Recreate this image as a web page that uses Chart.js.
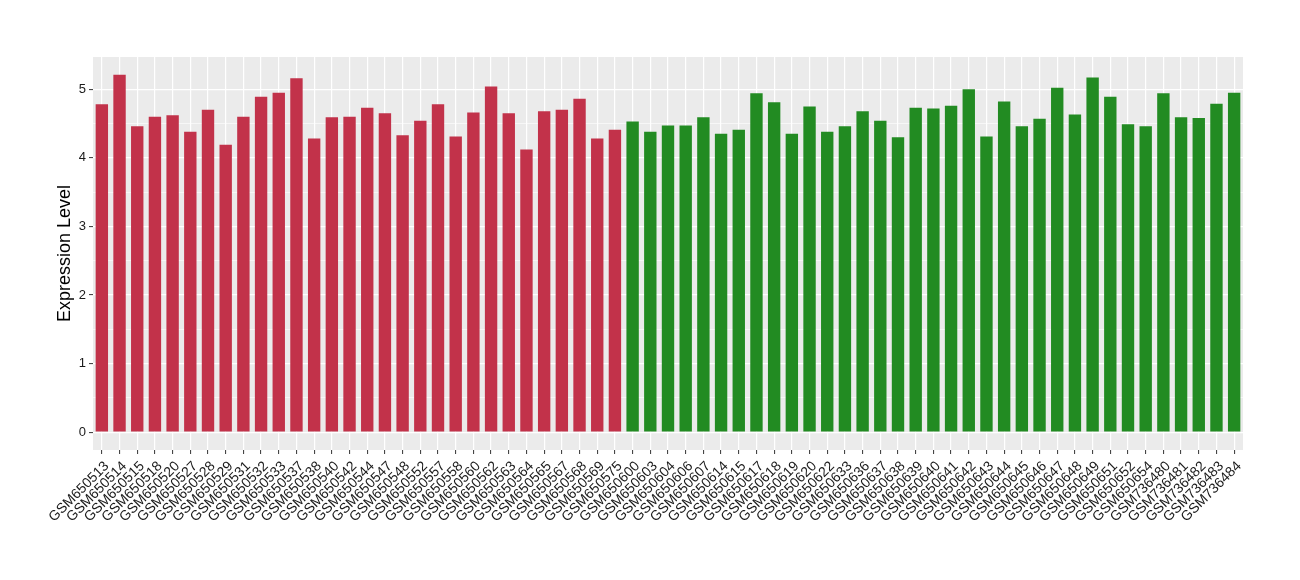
<!DOCTYPE html>
<html>
<head>
<meta charset="utf-8">
<script src="https://cdn.jsdelivr.net/npm/chart.js@4"></script>
<style>
  html, body { margin: 0; padding: 0; background: #fff; }
  #wrap { width: 1300px; height: 580px; }
</style>
</head>
<body>
<div id="wrap"><canvas id="canvas" width="1300" height="580"></canvas></div>
<script>
// SAMPLES - first group (red)
var redSamples = ['GSM650513', 'GSM650514', 'GSM650515', 'GSM650518', 'GSM650520', 'GSM650527',
  'GSM650528', 'GSM650529', 'GSM650531', 'GSM650532', 'GSM650533', 'GSM650537', 'GSM650538',
  'GSM650540', 'GSM650542', 'GSM650544', 'GSM650547', 'GSM650548', 'GSM650552', 'GSM650557',
  'GSM650558', 'GSM650560', 'GSM650562', 'GSM650563', 'GSM650564', 'GSM650565', 'GSM650567',
  'GSM650568', 'GSM650569', 'GSM650575'];
var redValues = [4.78, 5.21, 4.46, 4.60, 4.62, 4.38, 4.70, 4.19, 4.60, 4.89, 4.95, 5.16, 4.28,
  4.59, 4.60, 4.73, 4.65, 4.33, 4.54, 4.78, 4.31, 4.66, 5.04, 4.65, 4.12, 4.68, 4.70, 4.86,
  4.28, 4.41];

// SAMPLES - second group (green)
var greenSamples = ['GSM650600', 'GSM650603', 'GSM650604', 'GSM650606', 'GSM650607', 'GSM650614',
  'GSM650615', 'GSM650617', 'GSM650618', 'GSM650619', 'GSM650620', 'GSM650622', 'GSM650633',
  'GSM650636', 'GSM650637', 'GSM650638', 'GSM650639', 'GSM650640', 'GSM650641', 'GSM650642',
  'GSM650643', 'GSM650644', 'GSM650645', 'GSM650646', 'GSM650647', 'GSM650648', 'GSM650649',
  'GSM650651', 'GSM650652', 'GSM650654', 'GSM736480', 'GSM736481', 'GSM736482', 'GSM736483',
  'GSM736484'];
var greenValues = [4.53, 4.38, 4.47, 4.47, 4.59, 4.35, 4.41, 4.94, 4.81, 4.35, 4.75, 4.38, 4.46,
  4.68, 4.54, 4.30, 4.73, 4.72, 4.76, 5.00, 4.31, 4.82, 4.46, 4.57, 5.02, 4.63, 5.17, 4.89,
  4.49, 4.46, 4.94, 4.59, 4.58, 4.79, 4.95];

// Y TICKS
var yTicks = [0, 0.5, 1, 1.5, 2, 2.5, 3, 3.5, 4, 4.5, 5];

var RED = '#C2324A';
var GREEN = '#228B22';
var FONT = "'Liberation Sans', Arial, sans-serif";

var labels = redSamples.concat(greenSamples);
var values = redValues.concat(greenValues);
var colors = redSamples.map(function () { return RED }).concat(greenSamples.map(function () { return GREEN }));

var isMajor = function (v) { return Math.abs(v - Math.round(v)) < 1e-6 };

// grey ggplot panel behind the grid
var panelBg = {
  id: 'panelBg',
  beforeDraw: function (chart) {
    var a = chart.chartArea;
    var ctx = chart.ctx;
    ctx.save();
    ctx.fillStyle = '#EBEBEB';
    ctx.fillRect(a.left, a.top, a.right - a.left, a.bottom - a.top);
    ctx.restore();
  }
};

var ctx = document.getElementById('canvas').getContext('2d');
window.myBar = new Chart(ctx, {
  type: 'bar',
  data: {
    labels: labels,
    datasets: [{
      label: 'Expression',
      data: values,
      backgroundColor: colors,
      borderWidth: 0,
      barPercentage: 0.7,
      categoryPercentage: 1.0
    }]
  },
  options: {
    responsive: false,
    animation: false,
    layout: { padding: { top: 57, right: 57, left: 0, bottom: 0 } },
    plugins: {
      legend: { display: false },
      tooltip: { enabled: false }
    },
    scales: {
      x: {
        offset: true,
        border: { display: false },
        grid: {
          offset: false,
          color: '#FFFFFF',
          lineWidth: 1.2,
          tickColor: '#333333',
          tickLength: 4,
          tickWidth: 1
        },
        ticks: {
          autoSkip: false,
          minRotation: 45,
          maxRotation: 45,
          color: '#1A1A1A',
          padding: 4,
          labelOffset: 5,
          font: { family: FONT, size: 14 }
        },
        afterFit: function (scale) { scale.height = 130 }
      },
      y: {
        min: -0.26,
        max: 5.47,
        border: { display: false },
        afterBuildTicks: function (scale) {
          scale.ticks = yTicks.map(function (v) { return { value: v } });
        },
        grid: {
          color: '#FFFFFF',
          lineWidth: function (c) { return isMajor(c.tick.value) ? 1.2 : 0.6 },
          tickColor: function (c) { return isMajor(c.tick.value) ? '#333333' : 'rgba(0,0,0,0)' },
          tickLength: 4,
          tickWidth: 1
        },
        ticks: {
          color: '#1A1A1A',
          padding: 3,
          font: { family: FONT, size: 13 },
          callback: function (v) { return isMajor(v) ? String(Math.round(v)) : '' }
        },
        title: {
          display: true,
          text: 'Expression Level',
          color: '#000000',
          padding: { top: 54, bottom: 0 },
          font: { family: FONT, size: 18 }
        },
        afterFit: function (scale) { scale.width = 93 }
      }
    }
  },
  plugins: [panelBg]
});
</script>
</body>
</html>
